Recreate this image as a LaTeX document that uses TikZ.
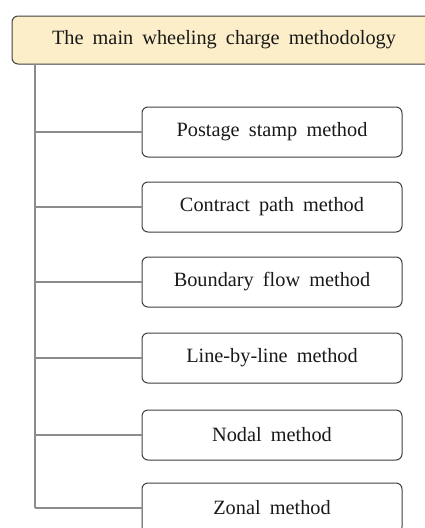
\documentclass[tikz,border=0pt]{standalone}
\usepackage{fontspec}
\setmainfont{Liberation Serif}
\newcommand{\boxfont}{\fontsize{20.3}{24}\selectfont\spaceskip=0.45em\relax}
\begin{document}
\begin{tikzpicture}[x=1pt,y=-1pt,
  every node/.style={font=\boxfont, text=black!90},
  rootbox/.style={draw=black!75, line width=1pt, rounded corners=6pt, fill=rootfill,
    minimum width=424pt, minimum height=48pt, inner sep=0pt},
  leafbox/.style={draw=black!75, line width=1pt, rounded corners=6pt, fill=white,
    minimum width=260pt, minimum height=50pt, inner sep=0pt},
  link/.style={draw=linkgray, line width=1.1pt}]
\definecolor{rootfill}{RGB}{251,238,200}
\definecolor{linkgray}{RGB}{140,140,140}
\useasboundingbox (0,0) rectangle (425,528);
\clip (0,0) rectangle (425,528);

% root of the tree
\node[rootbox] (root) at (224,40) {The main wheeling charge methodology};

% the six methods
\node[leafbox] (m1) at (272,132) {Postage stamp method};
\node[leafbox] (m2) at (272,207) {Contract path method};
\node[leafbox] (m3) at (272,282) {Boundary flow method};
\node[leafbox] (m4) at (272,358) {Line-by-line method};
\node[leafbox] (m5) at (272,435) {Nodal method};
\node[leafbox] (m6) at (272,508) {Zonal method};

% vertical trunk and branches
\coordinate (top) at (35,64);
\coordinate (bot) at (35,508);
\draw[link] (top) -- (bot);
\foreach \m in {m1,m2,m3,m4,m5,m6}
  \draw[link] (\m.west -| top) -- (\m.west);
\end{tikzpicture}
\end{document}
